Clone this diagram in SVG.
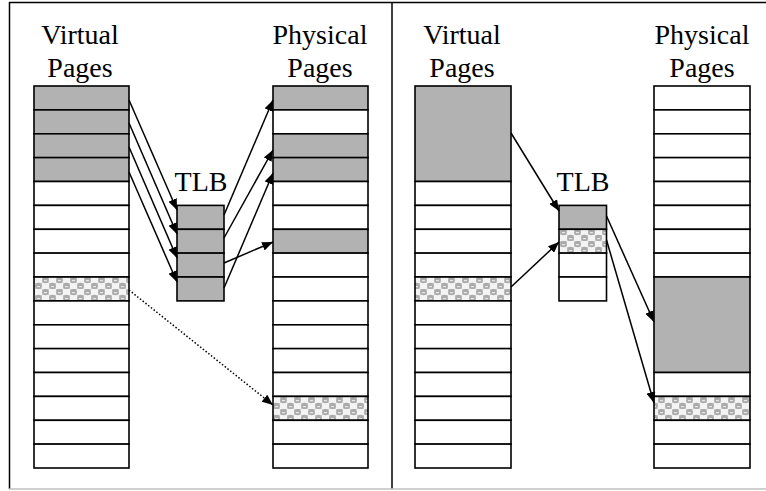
<svg xmlns="http://www.w3.org/2000/svg" width="766" height="491" viewBox="0 0 766 491">
<style>
.lbl{font-family:"Liberation Serif","Times New Roman","DejaVu Serif",serif;font-size:28px;fill:#000;text-anchor:middle}
.c{fill:#fff;stroke:#000;stroke-width:1.6}
.g{fill:#b2b2b2;stroke:#000;stroke-width:1.6}
.p{fill:url(#dots);stroke:#000;stroke-width:1.6}
.a{fill:none;stroke:#000;stroke-width:1.5;marker-end:url(#ah)}
.d{fill:none;stroke:#000;stroke-width:1.5;stroke-dasharray:1.5 2;marker-end:url(#ah)}
.frame{fill:none;stroke:#000;stroke-width:1.5}
</style>
<defs>
<marker id="ah" markerUnits="userSpaceOnUse" markerWidth="11" markerHeight="9" refX="11" refY="4.5" orient="auto">
<path d="M0,0 L11,4.5 L0,9 z" fill="#000"/>
</marker>
<pattern id="dots" patternUnits="userSpaceOnUse" x="0" y="1" width="14" height="12">
<rect width="14" height="12" fill="#f4f4f4"/>
<rect x="0" y="0" width="7" height="6" fill="#cfcfcf"/>
<rect x="7" y="6" width="7" height="6" fill="#cfcfcf"/>
<circle cx="3.5" cy="3" r="3.3" fill="#ababab"/>
<circle cx="10.5" cy="9" r="3.3" fill="#ababab"/>
<rect x="2" y="3" width="3" height="1.2" fill="#e6e6e6"/>
<rect x="9" y="9" width="3" height="1.2" fill="#e6e6e6"/>
</pattern>
</defs>
<g id="frame">
<line class="frame" x1="9.5" y1="2.5" x2="766" y2="2.5"/>
<line class="frame" x1="9.5" y1="2" x2="9.5" y2="489"/>
<line class="frame" x1="392" y1="2" x2="392" y2="489"/>
<line x1="9" y1="489" x2="766" y2="489" stroke="#c0c0c0" stroke-width="1.5"/>
</g>
<g id="left-virtual">
<text class="lbl" x="80" y="44">Virtual</text>
<text class="lbl" x="80" y="77">Pages</text>
<rect class="g" x="34" y="86" width="95" height="23.9"/>
<rect class="g" x="34" y="109.9" width="95" height="23.9"/>
<rect class="g" x="34" y="133.8" width="95" height="23.9"/>
<rect class="g" x="34" y="157.6" width="95" height="23.9"/>
<rect class="c" x="34" y="181.5" width="95" height="23.9"/>
<rect class="c" x="34" y="205.4" width="95" height="23.9"/>
<rect class="c" x="34" y="229.3" width="95" height="23.9"/>
<rect class="c" x="34" y="253.1" width="95" height="23.9"/>
<rect class="p" x="34" y="277" width="95" height="23.9"/>
<rect class="c" x="34" y="300.9" width="95" height="23.9"/>
<rect class="c" x="34" y="324.8" width="95" height="23.9"/>
<rect class="c" x="34" y="348.6" width="95" height="23.9"/>
<rect class="c" x="34" y="372.5" width="95" height="23.9"/>
<rect class="c" x="34" y="396.4" width="95" height="23.9"/>
<rect class="c" x="34" y="420.3" width="95" height="23.9"/>
<rect class="c" x="34" y="444.1" width="95" height="23.9"/>
</g>
<g id="left-tlb">
<text class="lbl" x="201" y="191">TLB</text>
<rect class="g" x="177" y="205.4" width="47" height="23.9"/>
<rect class="g" x="177" y="229.3" width="47" height="23.9"/>
<rect class="g" x="177" y="253.1" width="47" height="23.9"/>
<rect class="g" x="177" y="277" width="47" height="23.9"/>
</g>
<g id="left-physical">
<text class="lbl" x="320" y="44">Physical</text>
<text class="lbl" x="320" y="77">Pages</text>
<rect class="g" x="273" y="86" width="95" height="23.9"/>
<rect class="c" x="273" y="109.9" width="95" height="23.9"/>
<rect class="g" x="273" y="133.8" width="95" height="23.9"/>
<rect class="g" x="273" y="157.6" width="95" height="23.9"/>
<rect class="c" x="273" y="181.5" width="95" height="23.9"/>
<rect class="c" x="273" y="205.4" width="95" height="23.9"/>
<rect class="g" x="273" y="229.3" width="95" height="23.9"/>
<rect class="c" x="273" y="253.1" width="95" height="23.9"/>
<rect class="c" x="273" y="277" width="95" height="23.9"/>
<rect class="c" x="273" y="300.9" width="95" height="23.9"/>
<rect class="c" x="273" y="324.8" width="95" height="23.9"/>
<rect class="c" x="273" y="348.6" width="95" height="23.9"/>
<rect class="c" x="273" y="372.5" width="95" height="23.9"/>
<rect class="p" x="273" y="396.4" width="95" height="23.9"/>
<rect class="c" x="273" y="420.3" width="95" height="23.9"/>
<rect class="c" x="273" y="444.1" width="95" height="23.9"/>
</g>
<g id="right-virtual">
<text class="lbl" x="462" y="44">Virtual</text>
<text class="lbl" x="462" y="77">Pages</text>
<rect class="g" x="415" y="86" width="96" height="95.5"/>
<rect class="c" x="415" y="181.5" width="96" height="23.9"/>
<rect class="c" x="415" y="205.4" width="96" height="23.9"/>
<rect class="c" x="415" y="229.3" width="96" height="23.9"/>
<rect class="c" x="415" y="253.1" width="96" height="23.9"/>
<rect class="p" x="415" y="277" width="96" height="23.9"/>
<rect class="c" x="415" y="300.9" width="96" height="23.9"/>
<rect class="c" x="415" y="324.8" width="96" height="23.9"/>
<rect class="c" x="415" y="348.6" width="96" height="23.9"/>
<rect class="c" x="415" y="372.5" width="96" height="23.9"/>
<rect class="c" x="415" y="396.4" width="96" height="23.9"/>
<rect class="c" x="415" y="420.3" width="96" height="23.9"/>
<rect class="c" x="415" y="444.1" width="96" height="23.9"/>
</g>
<g id="right-tlb">
<text class="lbl" x="583" y="191">TLB</text>
<rect class="g" x="559" y="205.4" width="47.5" height="23.9"/>
<rect class="p" x="559" y="229.3" width="47.5" height="23.9"/>
<rect class="c" x="559" y="253.1" width="47.5" height="23.9"/>
<rect class="c" x="559" y="277" width="47.5" height="23.9"/>
</g>
<g id="right-physical">
<text class="lbl" x="702" y="44">Physical</text>
<text class="lbl" x="702" y="77">Pages</text>
<rect class="c" x="654" y="86" width="96" height="23.9"/>
<rect class="c" x="654" y="109.9" width="96" height="23.9"/>
<rect class="c" x="654" y="133.8" width="96" height="23.9"/>
<rect class="c" x="654" y="157.6" width="96" height="23.9"/>
<rect class="c" x="654" y="181.5" width="96" height="23.9"/>
<rect class="c" x="654" y="205.4" width="96" height="23.9"/>
<rect class="c" x="654" y="229.3" width="96" height="23.9"/>
<rect class="c" x="654" y="253.1" width="96" height="23.9"/>
<rect class="g" x="654" y="277" width="96" height="95.5"/>
<rect class="c" x="654" y="372.5" width="96" height="23.9"/>
<rect class="p" x="654" y="396.4" width="96" height="23.9"/>
<rect class="c" x="654" y="420.3" width="96" height="23.9"/>
<rect class="c" x="654" y="444.1" width="96" height="23.9"/>
</g>
<g id="connectors">
<line class="a" x1="129" y1="100" x2="177" y2="210"/>
<line class="a" x1="129" y1="123" x2="177" y2="234"/>
<line class="a" x1="129" y1="147" x2="177" y2="258"/>
<line class="a" x1="129" y1="172" x2="177" y2="282"/>
<line class="a" x1="224" y1="215" x2="273" y2="100"/>
<line class="a" x1="224" y1="238" x2="273" y2="150"/>
<line class="a" x1="224" y1="288" x2="273" y2="173"/>
<line class="a" x1="224" y1="263" x2="273" y2="242"/>
<line class="d" x1="129" y1="290" x2="273" y2="405"/>
<line class="a" x1="511" y1="133" x2="559" y2="211"/>
<line class="a" x1="511" y1="287" x2="559" y2="242"/>
<line class="a" x1="606.5" y1="216" x2="654" y2="322"/>
<line class="a" x1="606.5" y1="240" x2="654" y2="403"/>
</g>
</svg>
